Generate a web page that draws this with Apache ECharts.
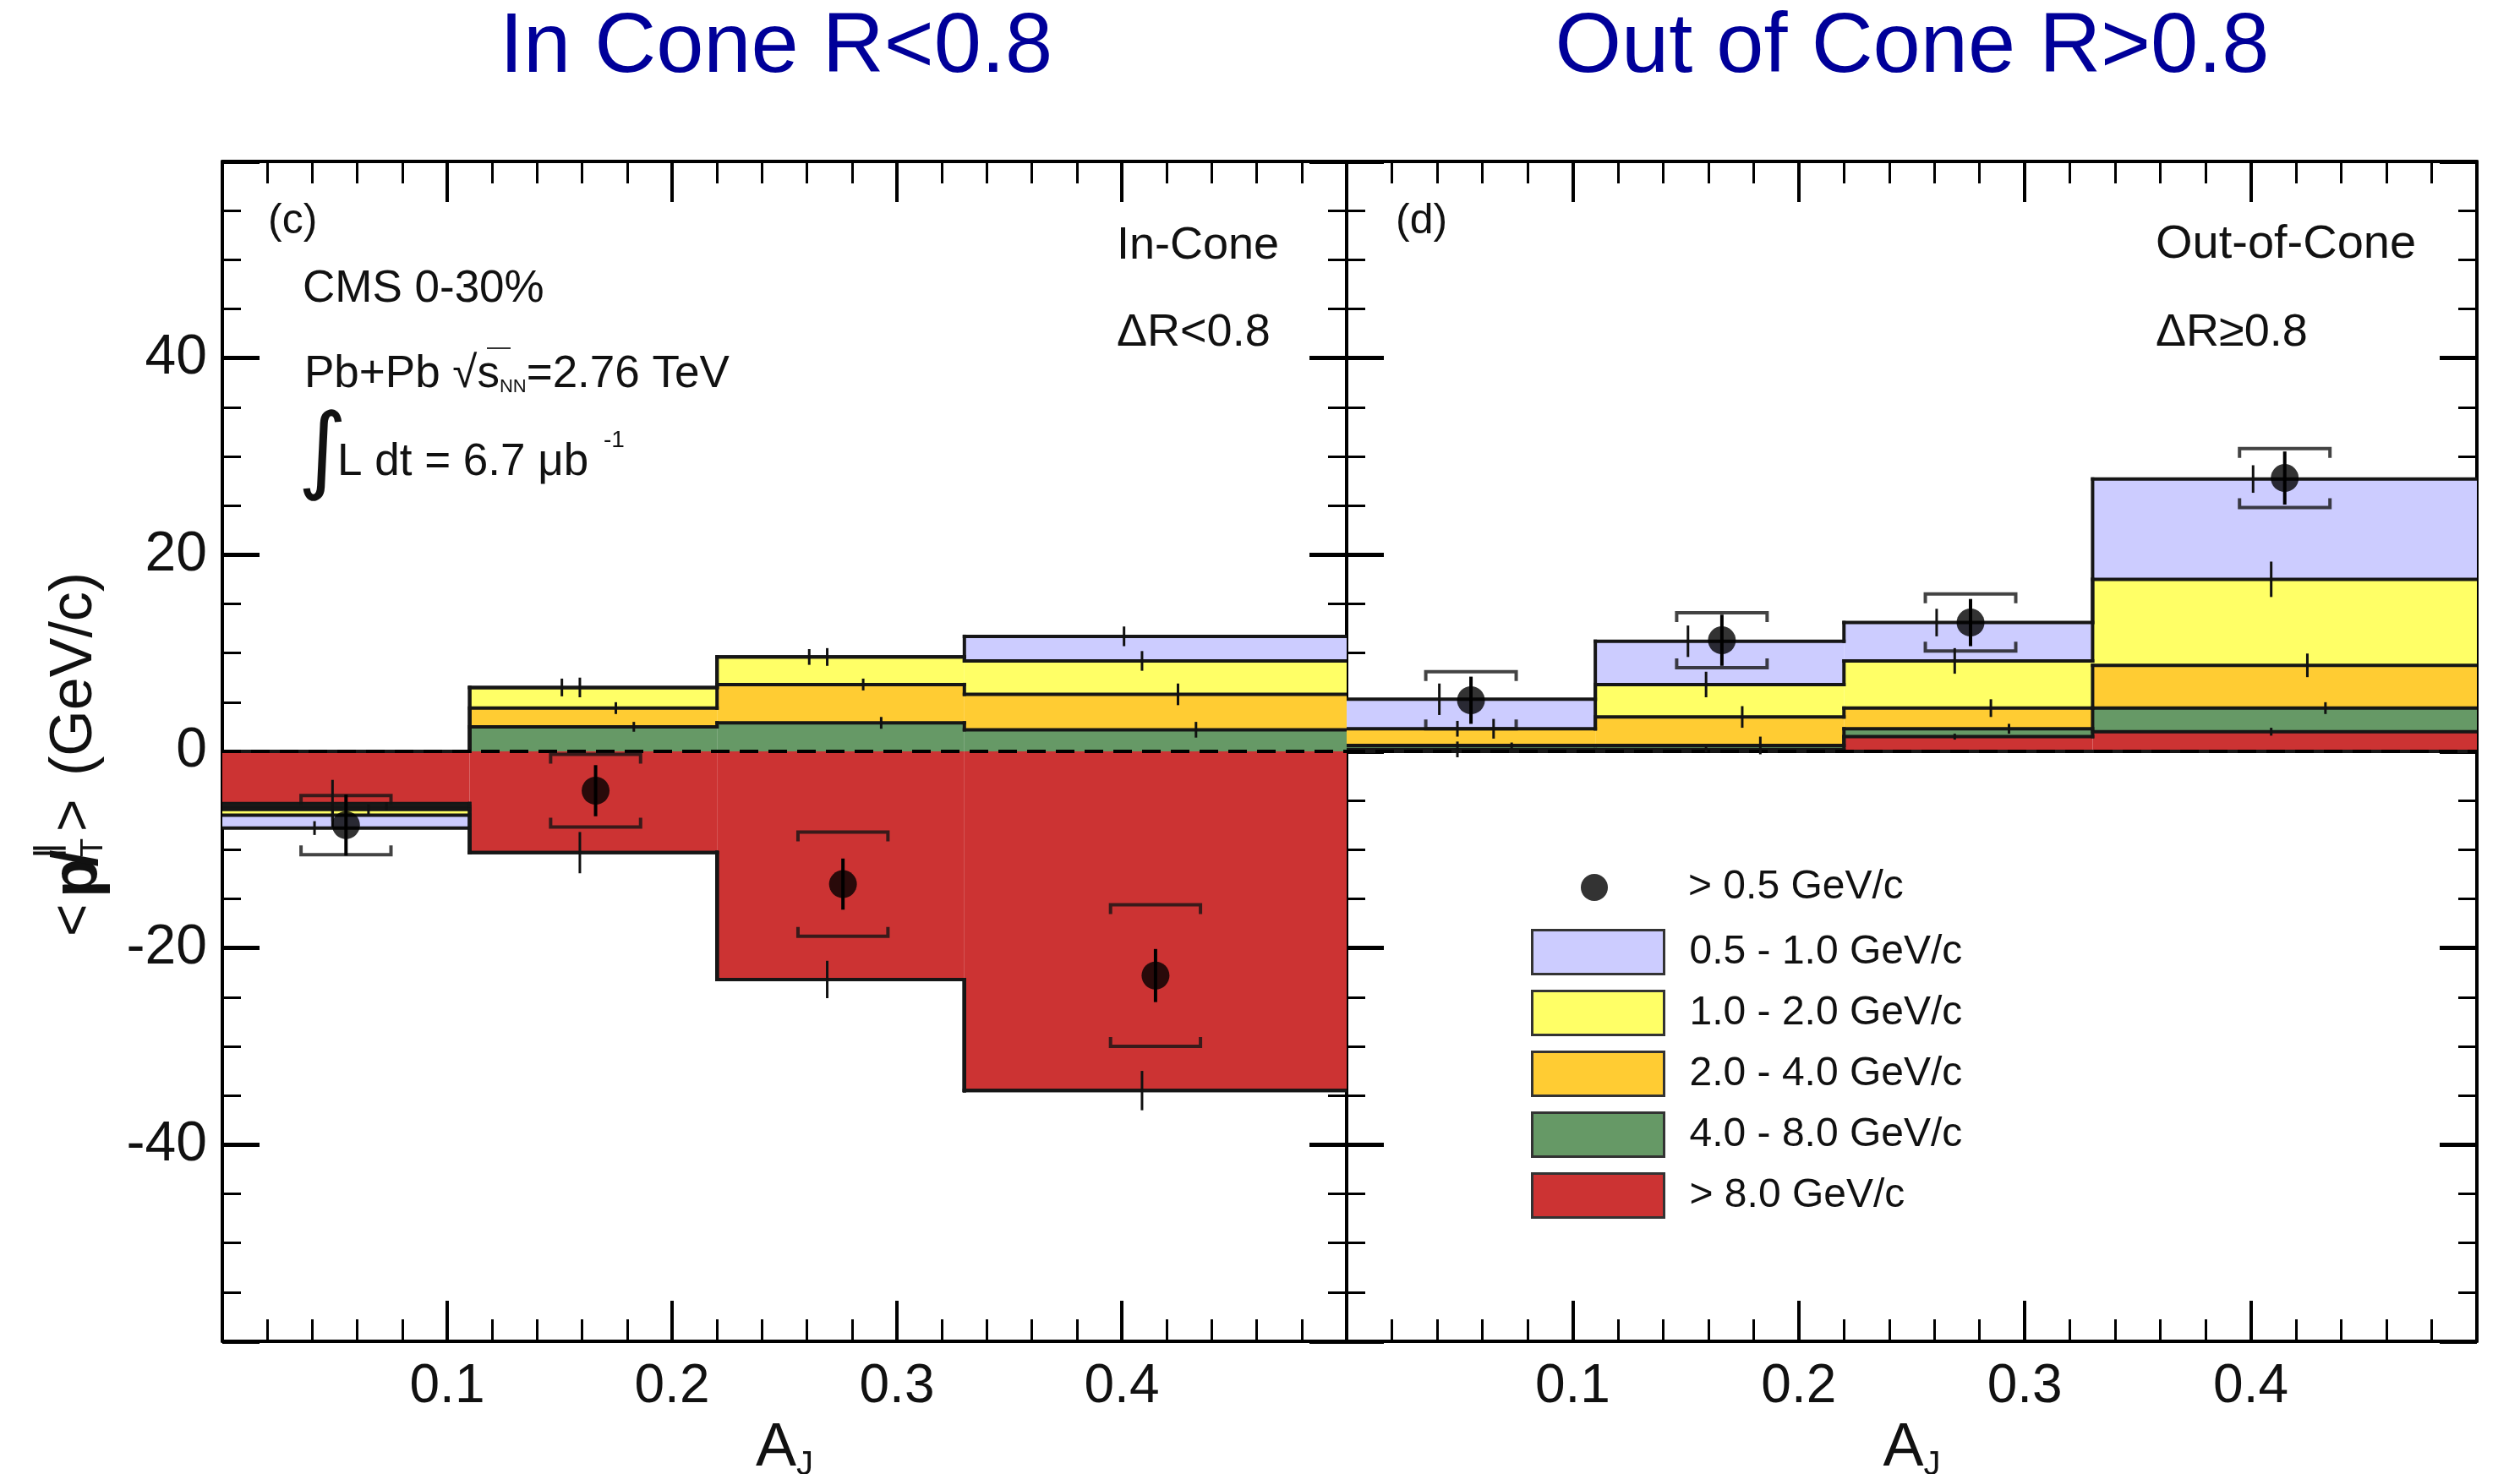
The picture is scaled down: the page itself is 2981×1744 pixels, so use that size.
<!DOCTYPE html>
<html>
<head>
<meta charset="utf-8">
<script src="https://cdn.jsdelivr.net/npm/echarts@6/dist/echarts.min.js"></script>
<style>
  html, body { margin: 0; padding: 0; background: #fff; }
  #chart { width: 2981px; height: 1744px; }
</style>
</head>
<body>
<div id="chart"></div>
<script>
// ---- Binning in dijet asymmetry A_J ----
const binEdges = [0, 0.11, 0.22, 0.33, 0.5];
const binCenters = [0.055, 0.165, 0.275, 0.415];

// ---- Track pT classes, stacked from zero outward ----
const ptLabels = ['> 8.0 GeV/c', '4.0 - 8.0 GeV/c', '2.0 - 4.0 GeV/c', '1.0 - 2.0 GeV/c', '0.5 - 1.0 GeV/c'];
const ptColors = ['#cc3333', '#669966', '#ffcc33', '#ffff66', '#ccccff'];
const pointLabel = '> 0.5 GeV/c';

// ---- In-cone (ΔR<0.8) contributions, GeV/c ----
const inRed    = [-5.3, -10.3, -23.2, -34.5];
const inGreen  = [-0.3, 2.5, 2.9, 2.2];
const inOrange = [-0.3, 1.9, 3.9, 3.6];
const inYellow = [-0.6, 2.1, 2.8, 3.4];
const inBlue   = [-1.3, 0.0, 0.0, 2.5];
const inRedErr    = [2.4, 2.1, 1.9, 2.0];
const inGreenErr  = [0.4, 0.5, 0.6, 0.8];
const inOrangeErr = [0.5, 0.6, 0.6, 1.1];
const inYellowErr = [0.6, 1.0, 0.9, 1.0];
const inBlueErr   = [0.7, 0.9, 0.8, 1.0];
const inMean = [-7.5, -4.0, -13.5, -22.8];
const inStat = [3.1, 2.6, 2.6, 2.7];
const inSyst = [3.0, 3.7, 5.3, 7.2];

// ---- Out-of-cone (ΔR≥0.8) contributions, GeV/c ----
const outRed    = [0.2, 0.2, 1.5, 2.0];
const outGreen  = [0.4, 0.4, 0.8, 2.4];
const outOrange = [1.7, 2.9, 2.1, 4.35];
const outYellow = [0.0, 3.3, 4.8, 8.75];
const outBlue   = [3.0, 4.4, 3.9, 10.2];
const outRedErr    = [0.8, 0.3, 0.3, 0.4];
const outGreenErr  = [0.3, 0.9, 0.5, 0.6];
const outOrangeErr = [1.0, 1.1, 0.9, 1.2];
const outYellowErr = [0.8, 1.3, 1.3, 1.8];
const outBlueErr   = [1.6, 1.6, 1.4, 1.4];
const outMean = [5.2, 11.3, 13.1, 27.8];
const outStat = [2.4, 2.6, 2.4, 2.7];
const outSyst = [2.9, 2.8, 2.9, 3.0];

// Points sit at the mean A_J of each bin
const pointAJ = [0.055, 0.166, 0.276, 0.415];

// ---- Axis ticks ----
const xTickStep = 0.1;
const yTickStep = 20;

// ---- Layout constants ----
const FONT = '"Liberation Sans", Arial, Helvetica, sans-serif';
const errShift = [-0.006, 0.018, 0.010, -0.006, -0.014]; // horizontal stagger of per-class error bars
const bracketHalfWidth = 0.02;
const grids = [
  { left: 263, top: 191, width: 1330, height: 1396 },
  { left: 1593, top: 191, width: 1337, height: 1396 }
];

const panels = [
  { layers: [inRed, inGreen, inOrange, inYellow, inBlue],
    errs: [inRedErr, inGreenErr, inOrangeErr, inYellowErr, inBlueErr],
    mean: inMean, stat: inStat, syst: inSyst },
  { layers: [outRed, outGreen, outOrange, outYellow, outBlue],
    errs: [outRedErr, outGreenErr, outOrangeErr, outYellowErr, outBlueErr],
    mean: outMean, stat: outStat, syst: outSyst }
];

// Same-sign stacking: positive parts pile up above zero, negative parts below.
function stackPanel(layers) {
  const n = binEdges.length - 1;
  const pos = new Array(n).fill(0), neg = new Array(n).fill(0);
  return layers.map(vals => vals.map((v, i) => {
    const base = v >= 0 ? pos[i] : neg[i];
    const end = base + v;
    if (v >= 0) pos[i] = end; else neg[i] = end;
    return { v: v, base: base, end: end, P: pos[i], N: neg[i] };
  }));
}

// Step outlines of each cumulative layer (positive and negative stacks)
function outlineSegments(stacked) {
  const segs = [];
  const last = stacked.length - 1;
  stacked.forEach((layer, k) => {
    ['P', 'N'].forEach(key => {
      layer.forEach((c, i) => {
        const own = key === 'P' ? c.v > 0 : c.v < 0;
        if (own || k === last) segs.push([binEdges[i], c[key], binEdges[i + 1], c[key]]);
        if (i > 0) {
          const prev = layer[i - 1][key];
          if (prev !== c[key]) segs.push([binEdges[i], prev, binEdges[i], c[key]]);
        }
      });
    });
  });
  return segs;
}

const series = [];
panels.forEach((pan, p) => {
  const stacked = stackPanel(pan.layers);
  const xi = p * 2, yi = p * 2;

  // filled histogram bins
  stacked.forEach((layer, k) => {
    series.push({
      type: 'custom', name: ptLabels[k], xAxisIndex: xi, yAxisIndex: yi, z: 2, clip: true,
      itemStyle: { color: ptColors[k] },
      data: layer.map((c, i) => [binEdges[i], binEdges[i + 1], c.base, c.end]),
      encode: { x: [0, 1], y: [2, 3] },
      renderItem: (params, api) => {
        const a = api.coord([api.value(0), api.value(2)]);
        const b = api.coord([api.value(1), api.value(3)]);
        return {
          type: 'rect',
          shape: { x: Math.min(a[0], b[0]), y: Math.min(a[1], b[1]),
                   width: Math.abs(b[0] - a[0]), height: Math.abs(b[1] - a[1]) },
          style: { fill: ptColors[k] }
        };
      }
    });
  });

  // outlines + dashed zero line
  series.push({
    type: 'custom', xAxisIndex: xi, yAxisIndex: yi, z: 4, clip: true, silent: true,
    data: outlineSegments(stacked),
    encode: { x: [0, 2], y: [1, 3] },
    renderItem: (params, api) => {
      const a = api.coord([api.value(0), api.value(1)]);
      const b = api.coord([api.value(2), api.value(3)]);
      return { type: 'line', shape: { x1: a[0], y1: a[1], x2: b[0], y2: b[1] },
               style: { stroke: '#161616', lineWidth: 4, lineCap: 'square' } };
    },
    markLine: {
      silent: true, symbol: ['none', 'none'], label: { show: false },
      lineStyle: { color: '#000', type: [22, 12], width: 4 },
      emphasis: { disabled: true },
      data: [{ yAxis: 0 }]
    }
  });

  // per-class statistical error bars
  const errData = [];
  stacked.forEach((layer, k) => {
    layer.forEach((c, i) => {
      errData.push([binCenters[i] + errShift[k], c.end, pan.errs[k][i]]);
    });
  });
  series.push({
    type: 'custom', xAxisIndex: xi, yAxisIndex: yi, z: 5, clip: true, silent: true,
    data: errData,
    encode: { x: 0, y: 1 },
    renderItem: (params, api) => {
      const x = api.value(0), y = api.value(1), e = api.value(2);
      const a = api.coord([x, y + e]);
      const b = api.coord([x, y - e]);
      return { type: 'line', shape: { x1: a[0], y1: a[1], x2: b[0], y2: b[1] },
               style: { stroke: '#111', lineWidth: 3 } };
    }
  });

  // systematic brackets around the points
  series.push({
    type: 'custom', xAxisIndex: xi, yAxisIndex: yi, z: 6, clip: true, silent: true,
    data: pan.mean.map((m, i) => [pointAJ[i], m, pan.syst[i]]),
    encode: { x: 0, y: 1 },
    renderItem: (params, api) => {
      const x = api.value(0), y = api.value(1), s = api.value(2);
      const tl = api.coord([x - bracketHalfWidth, y + s]);
      const tr = api.coord([x + bracketHalfWidth, y + s]);
      const bl = api.coord([x - bracketHalfWidth, y - s]);
      const br = api.coord([x + bracketHalfWidth, y - s]);
      const hook = 11;
      const st = { stroke: 'rgba(20,20,20,0.8)', lineWidth: 4, fill: null };
      return { type: 'group', children: [
        { type: 'polyline', shape: { points: [[tl[0], tl[1] + hook], tl, tr, [tr[0], tr[1] + hook]] }, style: st },
        { type: 'polyline', shape: { points: [[bl[0], bl[1] - hook], bl, br, [br[0], br[1] - hook]] }, style: st }
      ] };
    }
  });

  // statistical error of the total
  series.push({
    type: 'custom', xAxisIndex: xi, yAxisIndex: yi, z: 7, clip: true, silent: true,
    data: pan.mean.map((m, i) => [pointAJ[i], m, pan.stat[i]]),
    encode: { x: 0, y: 1 },
    renderItem: (params, api) => {
      const x = api.value(0), y = api.value(1), e = api.value(2);
      const a = api.coord([x, y + e]);
      const b = api.coord([x, y - e]);
      return { type: 'line', shape: { x1: a[0], y1: a[1], x2: b[0], y2: b[1] },
               style: { stroke: '#000', lineWidth: 4 } };
    }
  });

  // total (> 0.5 GeV/c) points
  series.push({
    type: 'scatter', name: pointLabel, xAxisIndex: xi, yAxisIndex: yi, z: 8,
    symbol: 'circle', symbolSize: 33, itemStyle: { color: '#000' },
    data: pan.mean.map((m, i) => [pointAJ[i], m])
  });
});

function xAxisCfg(grid, pos, labels) {
  return {
    type: 'value', gridIndex: grid, position: pos, min: 0, max: 0.5, interval: xTickStep,
    axisLine: { show: true, onZero: false, lineStyle: { color: '#000', width: 4 } },
    axisTick: { show: true, inside: true, length: 48, lineStyle: { color: '#000', width: 4 } },
    minorTick: { show: true, splitNumber: 5, length: 26, lineStyle: { color: '#000', width: 3 } },
    splitLine: { show: false },
    axisLabel: { show: labels, showMinLabel: false, showMaxLabel: false, fontSize: 64,
                 fontFamily: FONT, color: '#111', margin: 22 },
    name: labels ? '{a|A}{j|J}' : '',
    nameLocation: 'middle', nameGap: 49,
    nameTextStyle: { rich: {
      a: { fontSize: 72, fontFamily: FONT, color: '#111', lineHeight: 80 },
      j: { fontSize: 40, fontFamily: FONT, color: '#111', verticalAlign: 'bottom', lineHeight: 40 }
    } }
  };
}
function yAxisCfg(grid, pos, labels) {
  return {
    type: 'value', gridIndex: grid, position: pos, min: -60, max: 60, interval: yTickStep,
    axisLine: { show: true, onZero: false, lineStyle: { color: '#000', width: 4 } },
    axisTick: { show: true, inside: true, length: 44, lineStyle: { color: '#000', width: 5 } },
    minorTick: { show: true, splitNumber: 4, length: 22, lineStyle: { color: '#000', width: 3 } },
    splitLine: { show: false },
    axisLabel: { show: labels, showMinLabel: false, showMaxLabel: false, fontSize: 66,
                 fontFamily: FONT, color: '#111', margin: 18 }
  };
}

const txt = (x, y, text, size, extra) => Object.assign({
  type: 'text', x: x, y: y, silent: true,
  style: Object.assign({ text: text, fontSize: size, fontFamily: FONT, fill: '#111',
                         align: 'left', verticalAlign: 'middle' }, extra || {})
});

const graphics = [
  // panel headings
  txt(918, 57, 'In Cone R<0.8', 101, { fill: '#000099', align: 'center' }),
  txt(2262, 57, 'Out of Cone R>0.8', 101, { fill: '#000099', align: 'center' }),
  // panel (c)
  txt(317, 262, '(c)', 50),
  txt(358, 342, 'CMS 0-30%', 53),
  { type: 'text', x: 360, y: 443, silent: true, style: {
      text: '{a|Pb+Pb \u221A}{b|s}{c|NN}{a|=2.76 TeV}', verticalAlign: 'middle',
      rich: {
        a: { fontSize: 53, fontFamily: FONT, fill: '#111', lineHeight: 60 },
        b: { fontSize: 53, fontFamily: FONT, fill: '#111', lineHeight: 60 },
        c: { fontSize: 22, fontFamily: FONT, fill: '#111', lineHeight: 60, verticalAlign: 'bottom', padding: [0, 0, 4, 0] }
      } } },
  { type: 'line', silent: true, shape: { x1: 576, y1: 412, x2: 604, y2: 412 }, style: { stroke: '#333', lineWidth: 2 } },
  txt(352, 540, '\u222B', 112, { fontFamily: '"DejaVu Sans", sans-serif', fontWeight: 'normal' }),
  txt(399, 547, 'L dt = 6.7 \u03BCb', 53),
  txt(714, 521, '-1', 28),
  txt(1321, 291, 'In-Cone', 54),
  txt(1321, 394, '\u0394R<0.8', 54),
  // panel (d)
  txt(1651, 262, '(d)', 50),
  txt(2550, 290, 'Out-of-Cone', 56),
  txt(2550, 394, '\u0394R\u22650.8', 54),
  // vertical axis title  <p̸T‖> (GeV/c)
  { type: 'group', x: 89, y: 1108, rotation: Math.PI / 2, silent: true, children: [
      txt(0, 0, '<', 66),
      txt(46, 4, 'p\u0338', 76, { fontWeight: 'bold' }),
      txt(92, -30, '\u2225', 38, { fontWeight: 'bold' }),
      txt(94, 22, 'T', 36),
      txt(124, 0, '>', 66),
      txt(190, 0, '(GeV/c)', 70)
  ] }
];

const legendText = (pad) => ({
  rich: { t: { fontSize: 48, fontFamily: FONT, color: '#111', padding: [0, 0, 0, pad], lineHeight: 52 } }
});

const option = {
  backgroundColor: '#fff',
  animation: false,
  grid: grids.map(g => Object.assign({ containLabel: false, outerBoundsMode: 'none', show: false }, g)),
  xAxis: [xAxisCfg(0, 'bottom', true), xAxisCfg(0, 'top', false),
          xAxisCfg(1, 'bottom', true), xAxisCfg(1, 'top', false)],
  yAxis: [yAxisCfg(0, 'left', true), yAxisCfg(0, 'right', false),
          yAxisCfg(1, 'left', false), yAxisCfg(1, 'right', false)],
  legend: [
    { orient: 'vertical', left: 1865, top: 1021, itemWidth: 32, itemHeight: 32,
      selectedMode: false, formatter: '{t|{name}}', textStyle: legendText(90),
      data: [{ name: pointLabel, icon: 'circle', itemStyle: { color: '#000' } }] },
    { orient: 'vertical', left: 1806, top: 1094, itemWidth: 156, itemHeight: 52, itemGap: 17,
      selectedMode: false, formatter: '{t|{name}}', textStyle: legendText(25),
      data: [4, 3, 2, 1, 0].map(k => ({ name: ptLabels[k], icon: 'rect',
        itemStyle: { color: ptColors[k], borderColor: '#333', borderWidth: 3 } })) }
  ],
  graphic: graphics,
  series: series
};

const chart = echarts.init(document.getElementById('chart'), null, { renderer: 'canvas' });
chart.setOption(option);
</script>
</body>
</html>
